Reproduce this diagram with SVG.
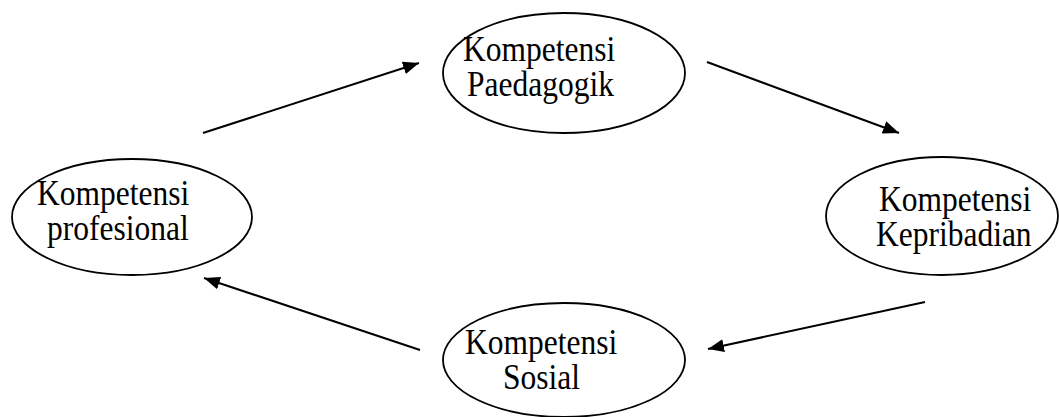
<svg xmlns="http://www.w3.org/2000/svg" width="1059" height="417" viewBox="0 0 1059 417">
<style>
.node ellipse{fill:#fff;stroke:#000;stroke-width:1.8}
.node text{font-family:"Liberation Serif","Times New Roman",serif;font-size:35px;fill:#000}
.conn line{stroke:#000;stroke-width:2}
</style>
<defs>
<marker id="arr" viewBox="0 0 16 13" refX="16" refY="6.5" markerWidth="16" markerHeight="13" orient="auto" markerUnits="userSpaceOnUse">
<path d="M0,0 L16,6.5 L0,13 Z" fill="#000"/>
</marker>
</defs>
<rect width="1059" height="417" fill="#fff"/>
<g id="connectors" class="conn">
<line x1="203" y1="133" x2="419" y2="63" marker-end="url(#arr)"/>
<line x1="707" y1="62" x2="899" y2="133" marker-end="url(#arr)"/>
<line x1="925" y1="302" x2="708" y2="349" marker-end="url(#arr)"/>
<line x1="420" y1="350" x2="204" y2="278" marker-end="url(#arr)"/>
</g>
<g id="node-paedagogik" class="node">
<ellipse cx="564" cy="73" rx="121" ry="60"/>
<text transform="translate(463,61) scale(0.9,1)">Kompetensi</text>
<text transform="translate(467,96) scale(0.9,1)">Paedagogik</text>
</g>
<g id="node-profesional" class="node">
<ellipse cx="132" cy="217" rx="120" ry="58"/>
<text transform="translate(37,205) scale(0.9,1)">Kompetensi</text>
<text transform="translate(47,240) scale(0.9,1)">profesional</text>
</g>
<g id="node-kepribadian" class="node">
<ellipse cx="942" cy="216" rx="116" ry="59"/>
<text transform="translate(879,211) scale(0.9,1)">Kompetensi</text>
<text transform="translate(876,246) scale(0.9,1)">Kepribadian</text>
</g>
<g id="node-sosial" class="node">
<ellipse cx="564" cy="360" rx="121" ry="57"/>
<text transform="translate(465,354) scale(0.9,1)">Kompetensi</text>
<text transform="translate(503,389) scale(0.9,1)">Sosial</text>
</g>
</svg>
